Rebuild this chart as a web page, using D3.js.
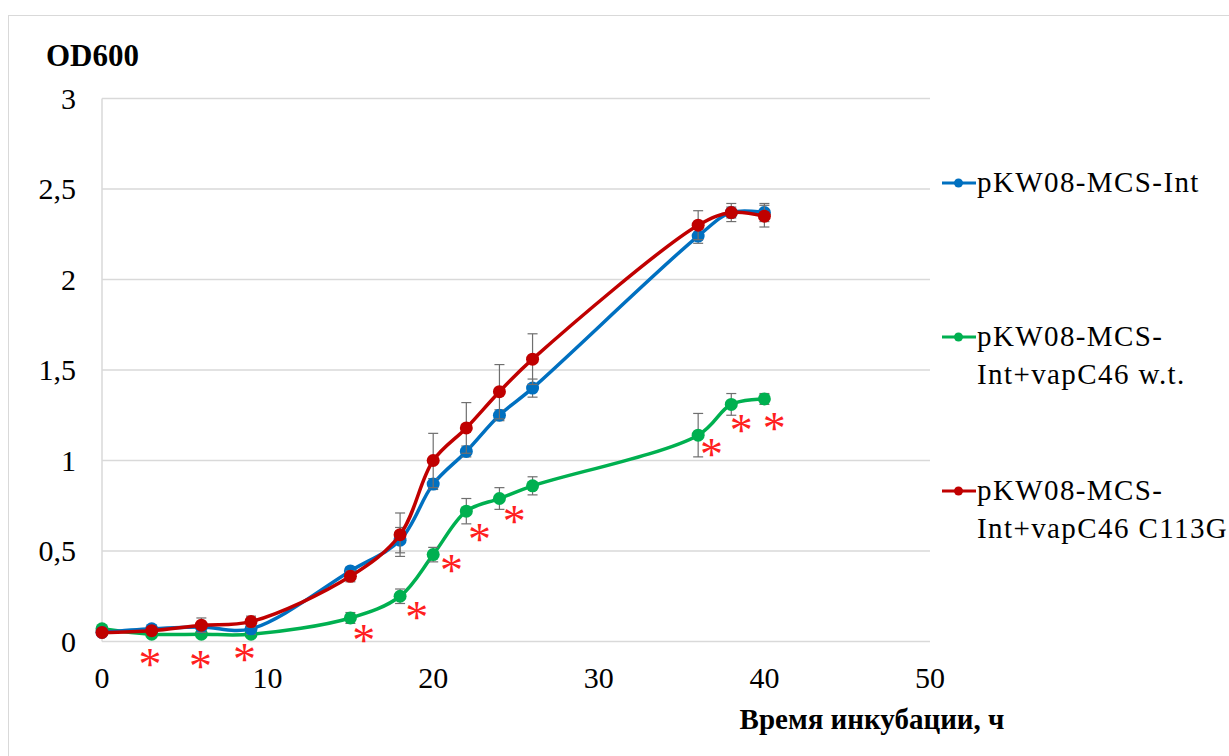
<!DOCTYPE html>
<html>
<head>
<meta charset="utf-8">
<script src="https://cdn.jsdelivr.net/npm/d3@7"></script>
<style>
  body { margin: 0; background: #fff; }
</style>
</head>
<body>
<script>
// time points, hours
var hours = [0, 3, 6, 9, 15, 18, 20, 22, 24, 26, 36, 38, 40];

var seriesNames = ["pKW08-MCS-Int", "pKW08-MCS-Int+vapC46 w.t.", "pKW08-MCS-Int+vapC46 C113G"];
var legendLines = [["pKW08-MCS-Int"], ["pKW08-MCS-", "Int+vapC46 w.t."], ["pKW08-MCS-", "Int+vapC46 C113G"]];

var odControl = [0.05, 0.07, 0.08, 0.07, 0.39, 0.56, 0.87, 1.05, 1.25, 1.40, 2.24, 2.37, 2.37];
var odWt      = [0.07, 0.04, 0.04, 0.04, 0.13, 0.25, 0.48, 0.72, 0.79, 0.86, 1.14, 1.31, 1.34];
var odMut     = [0.05, 0.06, 0.09, 0.11, 0.36, 0.59, 1.00, 1.18, 1.38, 1.56, 2.30, 2.37, 2.35];

var errControl = [0.01, 0.02, 0.02, 0.03, 0.02, 0.07, 0.03, 0.03, 0.03, 0.05, 0.04, 0.03, 0.05];
var errWt      = [0.01, 0.01, 0.01, 0.01, 0.03, 0.04, 0.04, 0.07, 0.06, 0.05, 0.12, 0.06, 0.03];
var errMut     = [0.01, 0.01, 0.04, 0.03, 0.03, 0.12, 0.15, 0.14, 0.15, 0.14, 0.08, 0.05, 0.06];

// significance marks: [hour, od]
var stars = [[2.9, -0.09], [5.95, -0.10], [8.6, -0.065], [15.8, 0.04], [19.0, 0.17],
             [21.1, 0.43], [22.8, 0.60], [24.9, 0.70], [36.8, 1.07], [38.6, 1.20], [40.6, 1.21]];

var xTicks = [0, 10, 20, 30, 40, 50];
var yTicks = [0, 0.5, 1, 1.5, 2, 2.5, 3];

var colors = ["#0070C0", "#00B050", "#C00000"];

var width = 1229, height = 756;
var FONT = "'Liberation Serif'";

var svg = d3.select("body").append("svg")
    .attr("width", width)
    .attr("height", height);

// outer chart border
svg.append("rect")
    .attr("x", 8.5).attr("y", 15.5)
    .attr("width", 1300).attr("height", 900)
    .attr("fill", "none")
    .attr("stroke", "#d9d9d9");

var x = d3.scaleLinear().domain([0, 50]).range([102, 930]);
var y = d3.scaleLinear().domain([0, 3]).range([641.5, 98.5]);

// gridlines
svg.append("g")
    .selectAll("line")
    .data(yTicks)
    .enter().append("line")
    .attr("x1", x(0)).attr("x2", x(50))
    .attr("y1", function(d) { return y(d); })
    .attr("y2", function(d) { return y(d); })
    .attr("stroke", "#d9d9d9")
    .attr("stroke-width", 1.5);

svg.append("line")
    .attr("x1", x(0)).attr("x2", x(0))
    .attr("y1", y(0)).attr("y2", y(3))
    .attr("stroke", "#d9d9d9")
    .attr("stroke-width", 1.5);

// tick labels
svg.append("g")
    .selectAll("text")
    .data(yTicks)
    .enter().append("text")
    .attr("x", 76)
    .attr("y", function(d) { return y(d) + 10; })
    .attr("text-anchor", "end")
    .attr("font-size", 30)
    .style("font-family", FONT)
    .text(function(d) { return String(d).replace(".", ","); });

svg.append("g")
    .selectAll("text")
    .data(xTicks)
    .enter().append("text")
    .attr("x", function(d) { return x(d); })
    .attr("y", 688)
    .attr("text-anchor", "middle")
    .attr("font-size", 30)
    .style("font-family", FONT)
    .text(function(d) { return d; });

svg.append("text")
    .attr("x", 46).attr("y", 66)
    .attr("font-size", 31)
    .attr("font-weight", "bold")
    .style("font-family", FONT)
    .text("OD600");

svg.append("text")
    .attr("x", 872).attr("y", 729)
    .attr("text-anchor", "middle")
    .attr("font-size", 29)
    .attr("font-weight", "bold")
    .style("font-family", FONT)
    .text("Время инкубации, ч");

var series = [
  { name: seriesNames[0], od: odControl, err: errControl, color: colors[0] },
  { name: seriesNames[1], od: odWt, err: errWt, color: colors[1] },
  { name: seriesNames[2], od: odMut, err: errMut, color: colors[2] }
];

var line = d3.line()
    .x(function(d) { return x(d.t); })
    .y(function(d) { return y(d.v); })
    .curve(d3.curveCatmullRom.alpha(0.5));

function points(s) {
  return hours.map(function(t, i) { return { t: t, v: s.od[i], e: s.err[i] }; });
}

// draw order: green underneath, then blue, red on top
var order = [series[1], series[0], series[2]];

order.forEach(function(s) {
  svg.append("path")
      .datum(points(s))
      .attr("d", line)
      .attr("fill", "none")
      .attr("stroke", s.color)
      .attr("stroke-width", 3.5);

  var eb = svg.append("g")
      .attr("stroke", "#6f6f6f")
      .attr("stroke-width", 1.2);

  var pts = points(s);
  eb.selectAll("line.stem")
      .data(pts)
      .enter().append("line")
      .attr("x1", function(d) { return x(d.t); })
      .attr("x2", function(d) { return x(d.t); })
      .attr("y1", function(d) { return y(d.v - d.e); })
      .attr("y2", function(d) { return y(d.v + d.e); });
  eb.selectAll("line.capTop")
      .data(pts)
      .enter().append("line")
      .attr("x1", function(d) { return x(d.t) - 5; })
      .attr("x2", function(d) { return x(d.t) + 5; })
      .attr("y1", function(d) { return y(d.v + d.e); })
      .attr("y2", function(d) { return y(d.v + d.e); });
  eb.selectAll("line.capBot")
      .data(pts)
      .enter().append("line")
      .attr("x1", function(d) { return x(d.t) - 5; })
      .attr("x2", function(d) { return x(d.t) + 5; })
      .attr("y1", function(d) { return y(d.v - d.e); })
      .attr("y2", function(d) { return y(d.v - d.e); });

  svg.append("g")
      .selectAll("circle")
      .data(pts)
      .enter().append("circle")
      .attr("cx", function(d) { return x(d.t); })
      .attr("cy", function(d) { return y(d.v); })
      .attr("r", 6.5)
      .attr("fill", s.color);
});

// asterisks
svg.append("g")
    .selectAll("text")
    .data(stars)
    .enter().append("text")
    .attr("x", function(d) { return x(d[0]); })
    .attr("y", function(d) { return y(d[1]) + 22; })
    .attr("text-anchor", "middle")
    .attr("font-size", 46)
    .attr("fill", "#ff2020")
    .style("font-family", FONT)
    .text("*");

// legend
var legendY = [183, 337, 491];
var legend = svg.append("g")
    .selectAll("g")
    .data(series)
    .enter().append("g")
    .attr("transform", function(d, i) { return "translate(0," + legendY[i] + ")"; });

legend.append("line")
    .attr("x1", 942).attr("x2", 976)
    .attr("y1", 0).attr("y2", 0)
    .attr("stroke", function(d) { return d.color; })
    .attr("stroke-width", 3);

legend.append("circle")
    .attr("cx", 958.5).attr("cy", 0)
    .attr("r", 4.5)
    .attr("fill", function(d) { return d.color; });

legend.append("text")
    .attr("x", 977)
    .attr("y", 9)
    .attr("font-size", 29)
    .attr("letter-spacing", 1.4)
    .style("font-family", FONT)
    .selectAll("tspan")
    .data(function(d, i) { return legendLines[i]; })
    .enter().append("tspan")
    .attr("x", 977)
    .attr("dy", function(d, j) { return j === 0 ? 0 : 38; })
    .text(function(d) { return d; });
</script>
</body>
</html>
